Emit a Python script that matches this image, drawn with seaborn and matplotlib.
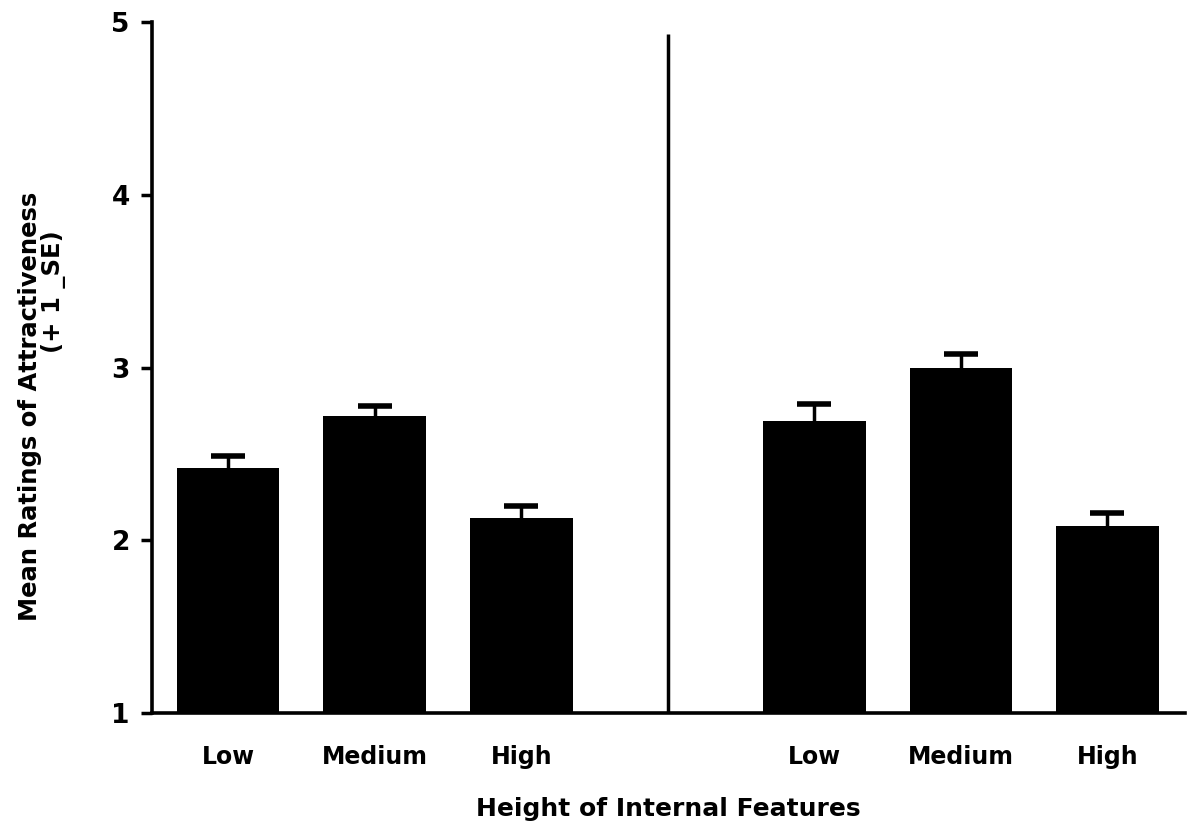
import matplotlib
matplotlib.use("Agg")
import matplotlib.pyplot as plt
import seaborn as sns
import pandas as pd
import numpy as np

# Data
conditions = ["Low", "Medium", "High", "Low", "Medium", "High"]
positions = [0, 1, 2, 4, 5, 6]
means = [2.42, 2.72, 2.13, 2.69, 3.00, 2.08]
se = [0.07, 0.06, 0.07, 0.10, 0.08, 0.08]
yticks = [1, 2, 3, 4, 5]

sns.set_theme(style="white")
plt.rcParams['font.family'] = ['DejaVu Sans']
plt.rcParams['font.weight'] = 'bold'
plt.rcParams['text.color'] = 'black'

df = pd.DataFrame({"pos": positions, "mean": means, "cond": conditions})

fig = plt.figure(figsize=(11.91, 8.27), dpi=100)
ax = fig.add_axes([152/1191, 1 - 713/827, (1185-152)/1191, (713-22)/827])

sns.barplot(data=df, x="pos", y="mean", native_scale=True, color="black",
            width=0.7, saturation=1, edgecolor="black", linewidth=0, ax=ax,
            errorbar=None)
# +1 SE error bars (lower half hidden inside the black bars)
ax.errorbar(df["pos"], df["mean"], yerr=se, fmt="none",
            ecolor="black", elinewidth=2.5, capsize=12, capthick=4, zorder=3)

ax.set_ylim(1, 5)
ax.set_xlim(-0.52, 6.53)
ax.set_yticks(yticks)
ax.set_yticklabels([str(t) for t in yticks], fontsize=19, fontweight="bold")
ax.set_xticks(positions)
ax.set_xticklabels(conditions, fontsize=17, fontweight="bold")

ax.vlines(3, 1, 4.93, color="black", linewidth=2.5)

for s in ["top", "right"]:
    ax.spines[s].set_visible(False)
for s in ["left", "bottom"]:
    ax.spines[s].set_linewidth(2.6)
    ax.spines[s].set_color("black")

ax.tick_params(axis="y", which="major", left=True, length=8, width=2.5,
               direction="out", pad=8, colors="black")
ax.tick_params(axis="x", length=0, pad=23, colors="black")

ax.set_ylabel("")
ax.set_xlabel("Height of Internal Features", fontsize=18, fontweight="bold",
              labelpad=20, color="black")
ax.grid(False)

# Two-line y-axis title
fig.text(30/1191, 1 - 406/827, "Mean Ratings of Attractiveness", rotation=90,
         ha="center", va="center", fontsize=17.5, fontweight="bold", color="black")
fig.text(54/1191, 1 - 292/827, "(+ 1 _SE)", rotation=90,
         ha="center", va="center", fontsize=17.5, fontweight="bold", color="black")

fig.savefig("out.png", dpi=100, facecolor="white")
